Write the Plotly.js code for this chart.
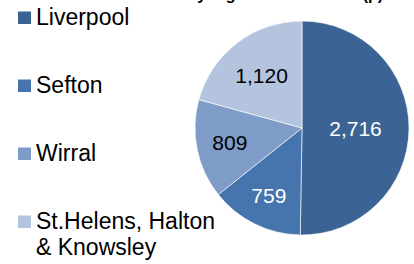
<!DOCTYPE html>
<html>
<head>
<meta charset="utf-8">
<script src="https://cdn.plot.ly/plotly-3.0.1.min.js"></script>
<style>html,body{margin:0;padding:0;background:#fff;}#chart{width:414px;height:264px;}</style>
</head>
<body>
<div id="chart"></div>
<script>
// Data
var titleText = "Numbers of clients by region of residence (p)";
var labels = ["Liverpool", "Sefton", "Wirral", "St.Helens, Halton<br>& Knowsley"];
var values = [2716, 759, 809, 1120];
var colors = ["#3B6495", "#4674AD", "#7F9BC8", "#B4C4DF"];
var textColors = ["#FFFFFF", "#FFFFFF", "#000000", "#000000"];

var W = 414, H = 264;
function px(x) { return x / W; }
function py(y) { return 1 - y / H; }

// pie geometry (pixels)
var cx = 302, cy = 128, R = 107;

var trace = {
  type: "pie",
  labels: labels,
  values: values,
  sort: false,
  direction: "clockwise",
  rotation: 0,
  marker: { colors: colors, line: { color: "rgba(255,255,255,0.6)", width: 1 } },
  texttemplate: "%{value:,}",
  textposition: "inside",
  insidetextorientation: "horizontal",
  textfont: { family: "Arial, 'Liberation Sans', sans-serif", size: 21, color: textColors },
  hoverinfo: "none",
  showlegend: false,
  domain: { x: [px(cx - R), px(cx + R)], y: [py(cy + R), py(cy - R)] }
};

// legend drawn as shapes + annotations
var baselines = [25, 93, 161, 229];
var lineGap = 26;
var shapes = [], annotations = [];
labels.forEach(function (lab, i) {
  var b = baselines[i];
  shapes.push({
    type: "rect", xref: "paper", yref: "paper",
    x0: px(18), x1: px(31), y0: py(b - 1), y1: py(b - 13.5),
    fillcolor: colors[i], line: { width: 0 }
  });
  lab.split("<br>").forEach(function (ln, j) {
    annotations.push({
      xref: "paper", yref: "paper",
      x: px(34), y: py(b + j * lineGap - 8),
      xanchor: "left", yanchor: "middle",
      text: ln, showarrow: false,
      font: { family: "Arial, 'Liberation Sans', sans-serif", size: 23, color: "#000" }
    });
  });
});

var layout = {
  width: W, height: H,
  margin: { l: 0, r: 0, t: 0, b: 0 },
  paper_bgcolor: "#fff",
  title: {
    text: "<b>" + titleText + "</b>",
    font: { family: "Arial, 'Liberation Sans', sans-serif", size: 16, color: "#000" },
    xref: "container", yref: "container",
    x: px(39), xanchor: "left",
    y: 1, yanchor: "bottom",
    automargin: false
  },
  uniformtext: { minsize: 21, mode: "show" },
  shapes: shapes,
  annotations: annotations,
  showlegend: false
};

Plotly.newPlot("chart", [trace], layout, { displayModeBar: false, staticPlot: true });
</script>
</body>
</html>
